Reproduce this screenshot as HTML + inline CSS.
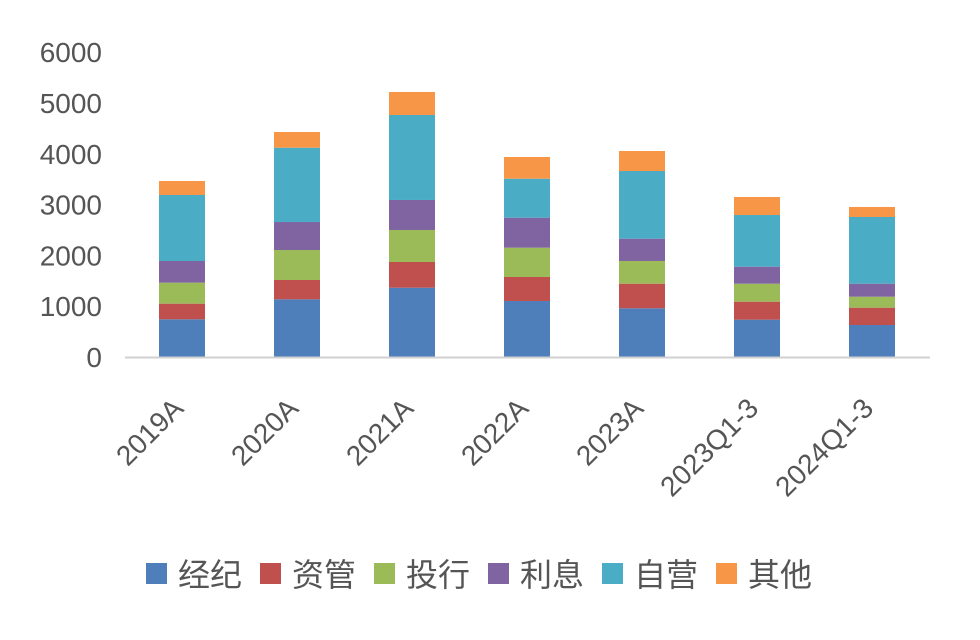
<!DOCTYPE html>
<html><head><meta charset="utf-8"><style>
html,body{margin:0;padding:0;background:#fff;}
svg text{font-family:"Liberation Sans","Noto Sans CJK SC",sans-serif;fill:#555;}
</style></head><body>
<svg id="chart" width="980" height="635"></svg>
<script>
const categories=["2019A","2020A","2021A","2022A","2023A","2023Q1-3","2024Q1-3"];
const seriesNames=["经纪","资管","投行","利息","自营","其他"];
const jingji=[742,1136,1364,1102,959,735,630];
const ziguan=[308,380,506,473,484,354,341];
const touhang=[413,590,630,577,447,354,216];
const lixi=[427,551,591,590,439,335,256];
const ziying=[1299,1463,1673,768,1332,1017,1313];
const qita=[276,309,453,427,394,355,197];
const yTicks=[0,1000,2000,3000,4000,5000,6000];
const colors=["#4f7fbb","#c0504d","#9bbb59","#8064a2","#4bacc6","#f79646"];
const series=[jingji,ziguan,touhang,lixi,ziying,qita];
const NS="http://www.w3.org/2000/svg";
const svg=document.getElementById('chart');
const y0=357,pxPer=50.8/1000;
function yScale(v){return y0-v*pxPer;}
function xScale(i){return 182+i*115;}
const barW=46;
function mk(t,a){const e=document.createElementNS(NS,t);for(const k in a)e.setAttribute(k,a[k]);svg.appendChild(e);return e;}
yTicks.forEach(t=>{
  const e=mk('text',{x:102,y:yScale(t)+10,'text-anchor':'end','font-size':28});
  e.textContent=t;
  
  
});
categories.forEach((c,i)=>{
  let cum=0;
  series.forEach((s,k)=>{
    const v=s[i];
    const r=mk('rect',{x:xScale(i)-barW/2,y:yScale(cum+v),width:barW,height:v*pxPer,fill:colors[k]});
    
    
    cum+=v;
  });
  const cx=xScale(i)+3,cy=410;
  const t=mk('text',{x:cx,y:cy,'text-anchor':'end','font-size':28,transform:`rotate(-45 ${cx} ${cy})`});
  t.textContent=c;
  
  
});
const ax=mk('line',{x1:125,x2:930,y1:y0+0.5,y2:y0+0.5,stroke:'#d0d0d0','stroke-width':2});


seriesNames.forEach((n,k)=>{
  const x=146+k*114;
  const s=mk('rect',{x:x,y:563,width:21,height:21,fill:colors[k]});
  
  
  const t=mk('text',{x:x+32,y:586,'font-size':32});
  t.textContent=n;
  
  
});
</script>
</body></html>
